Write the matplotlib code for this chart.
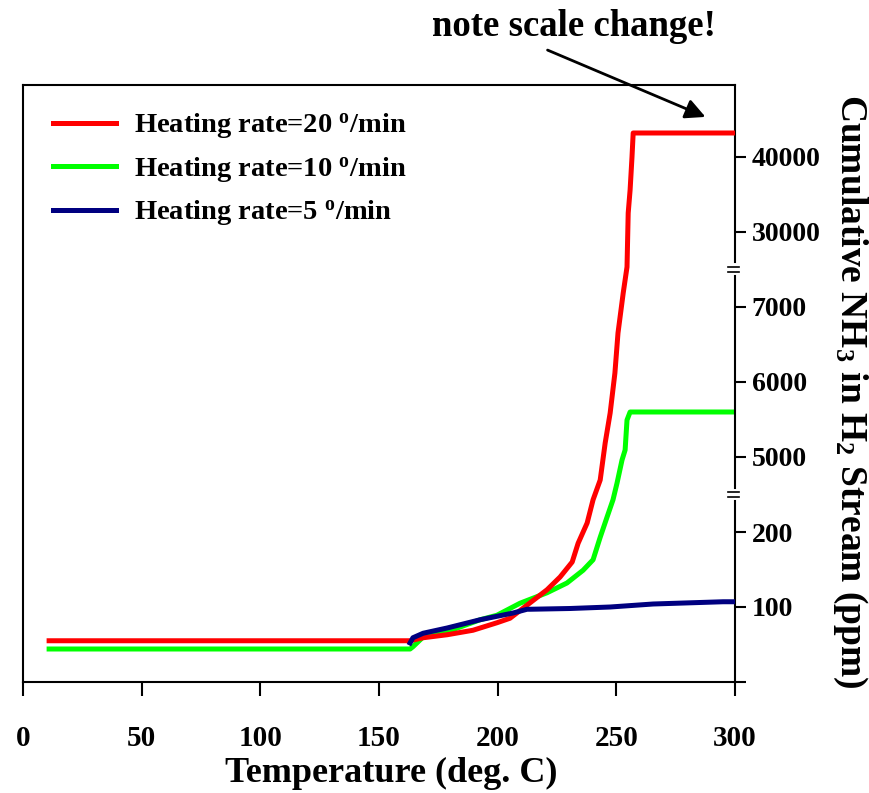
import numpy as np
import matplotlib
matplotlib.use('Agg')
import matplotlib.pyplot as plt

plt.rcParams['font.family'] = ['Liberation Serif', 'DejaVu Serif']
plt.rcParams['font.weight'] = 'bold'
plt.rcParams['axes.labelweight'] = 'bold'
plt.rcParams['mathtext.fontset'] = 'custom'
plt.rcParams['mathtext.rm'] = 'Liberation Serif:bold'
plt.rcParams['mathtext.bf'] = 'Liberation Serif:bold'
plt.rcParams['mathtext.it'] = 'Liberation Serif:bold:italic'

# data (temperature in deg C, cumulative NH3 in ppm)
t_20 = [11, 163.1, 168.6, 178.7, 189.6, 199.7, 205.2, 220.8, 226.3, 231.4, 233.9,
        237.7, 240.2, 243.2, 245.3, 247.4, 249.4, 250.7, 252.9, 254.5, 255.0,
        255.8, 256.6, 257.1, 300]
nh3_20 = [55, 55, 59, 63, 69, 79, 85, 123, 140, 160, 185,
          212, 243, 4693, 5187, 5587, 6120, 6653, 7187, 25333, 32533,
          35600, 40000, 43200, 43200]

t_10 = [11, 163.1, 164.3, 168.6, 178.7, 192.6, 199.7, 209.4, 220.8, 229.2, 236.0,
        240.2, 243.2, 246.1, 248.6, 250.3, 252.4, 253.7, 254.5, 255.8, 300]
nh3_10 = [44, 44, 47, 60, 67, 83, 89, 105, 119, 132, 149,
          163, 193, 220, 243, 4653, 4960, 5093, 5493, 5600, 5600]

t_5 = [163.1, 164.3, 168.6, 178.7, 192.6, 206.5, 212.4, 213.7, 230.5, 247.4,
       265.5, 295.0, 299.2]
nh3_5 = [52, 59, 65, 72, 83, 92, 97, 97, 98, 100, 104, 107, 107]

labels = ['Heating rate=20 $^{\\mathrm{o}}$/min',
          'Heating rate=10 $^{\\mathrm{o}}$/min',
          'Heating rate=5 $^{\\mathrm{o}}$/min']

x_ticks = [0, 50, 100, 150, 200, 250, 300]
y_ticks = [0, 100, 200, 5000, 6000, 7000, 30000, 40000]
y_ticklabels = ['', '100', '200', '5000', '6000', '7000', '30000', '40000']

# broken axis: three linear pieces glued together
knot_vals = np.array([0, 250, 4500, 7500, 25000, 60000])
knot_pos = np.array([0, 187.5, 187.51, 412.5, 412.51, 675.0])


def fwd(v):
    return np.interp(v, knot_vals, knot_pos)


def inv(p):
    return np.interp(p, knot_pos, knot_vals)


fig = plt.figure(figsize=(8.69, 7.93), dpi=100)
ax = fig.add_axes([23 / 869, 111 / 793, 712 / 869, 597 / 793])
ax.set_yscale('function', functions=(fwd, inv))

ax.plot(t_20, nh3_20, color='#ff0000', lw=3.6, label=labels[0], zorder=3)
ax.plot(t_10, nh3_10, color='#00ff00', lw=3.6, label=labels[1], zorder=2)
ax.plot(t_5, nh3_5, color='#000080', lw=3.6, label=labels[2], zorder=4)

ax.set_xlim(0, 300)
ax.set_ylim(0, inv(597))
ax.set_xticks(x_ticks)
ax.set_xticklabels([str(x) for x in x_ticks], fontsize=21)
ax.tick_params(axis='x', direction='out', length=10, width=1.5, pad=21)

ax.yaxis.tick_right()
ax.set_yticks(y_ticks)
ax.set_yticklabels(y_ticklabels, fontsize=20)
ax.tick_params(axis='y', direction='out', length=8, width=1.5, pad=4)
ax.yaxis.set_minor_locator(matplotlib.ticker.NullLocator())

for s in ['left', 'top', 'bottom']:
    ax.spines[s].set_linewidth(1.5)
ax.spines['right'].set_visible(False)

# right spine with gaps and break marks
b1 = 187.5 / 597
b2 = 412.5 / 597
g = 7 / 597
for y0, y1 in [(0, b1 - g), (b1 + g, b2 - g), (b2 + g, 1)]:
    ax.plot([1, 1], [y0, y1], color='black', lw=1.5, transform=ax.transAxes,
            clip_on=False)
for b in [b1, b2]:
    for d in [-2.2 / 597, 2.2 / 597]:
        ax.plot([1 - 7 / 712, 1 + 4 / 712], [b + d, b + d], color='black', lw=1.2,
                transform=ax.transAxes, clip_on=False)

ax.set_xlabel('Temperature (deg. C)', fontsize=26, fontweight='bold')
ax.xaxis.set_label_coords(0.517, -0.125)

fig.text(850 / 869, 0.507, 'Cumulative NH$_3$ in H$_2$ Stream (ppm)', fontsize=27,
         rotation=270, ha='center', va='center')

ax.legend(loc='upper left', bbox_to_anchor=(0.042, 0.955), frameon=False, fontsize=20.5,
          handlelength=2.2, handletextpad=0.65, labelspacing=0.5, borderpad=0,
          borderaxespad=0)

fig.text(0.6605, 0.966, 'note scale change!', fontsize=26.5, ha='center', va='center')
ax.annotate('', xy=(708 / 869, 1 - 118 / 793), xycoords='figure fraction',
            xytext=(545 / 869, 1 - 49 / 793), textcoords='figure fraction',
            arrowprops=dict(arrowstyle='-|>', color='black', lw=2, mutation_scale=30))

fig.savefig('out.png', dpi=100)
